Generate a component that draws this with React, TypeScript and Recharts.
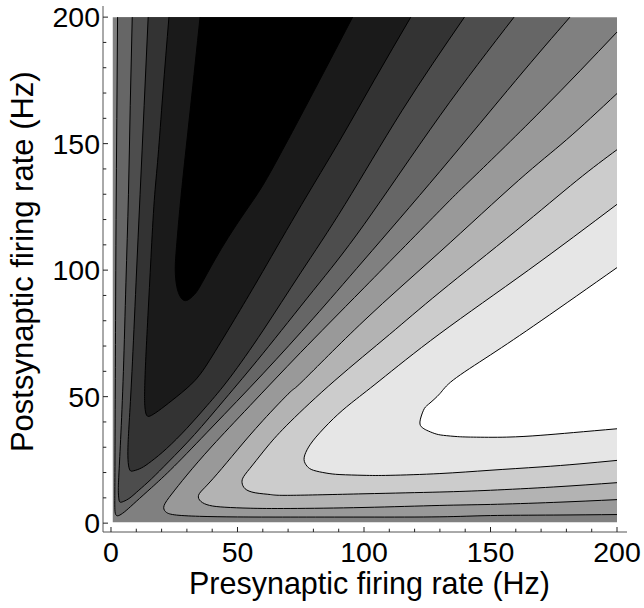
import React from 'react';
import { ComposedChart, Area, XAxis, YAxis, Label } from 'recharts';

type Pt = [number, number];

// axis ticks (minor every 10, labelled every 50)
const xTicks: number[] = [0, 10, 20, 30, 40, 50, 60, 70, 80, 90, 100, 110, 120, 130, 140, 150, 160, 170, 180, 190, 200];
const yTicks: number[] = [0, 10, 20, 30, 40, 50, 60, 70, 80, 90, 100, 110, 120, 130, 140, 150, 160, 170, 180, 190, 200];
const labelledTicks: number[] = [0, 50, 100, 150, 200];

// plotted range of the contour plot
const plotRangeX: Pt = [0.7, 200];
const plotRangeY: Pt = [0.4, 200];

// contours on the depression side (closed toward the top edge), outermost first
const contourD1: Pt[] = [
  [2.6, 200], [2.3, 160], [2.0, 120], [1.8, 80], [1.65, 45], [1.55, 20], [1.5, 9], [1.6, 4.5], [2.2, 3], [3.5, 3.2],
  [6, 5], [10, 8.6], [16, 14], [25, 22.5], [40, 38], [60, 59], [80, 81], [100, 104], [130, 139], [160, 175], [181.4, 200],
];
const contourD2: Pt[] = [
  [8.4, 200], [7.6, 165], [6.9, 130], [5.9, 95], [4.9, 60], [3.8, 33], [3.1, 19], [2.9, 13], [3.1, 9.6], [3.6, 8.3],
  [5, 8.6], [7.5, 10], [11, 13], [16, 17.5], [23, 24.5], [33, 35], [45, 49], [60, 67], [80, 92], [100, 118], [130, 161], [159.3, 200],
];
const contourD3: Pt[] = [
  [14.7, 200], [13.1, 165], [11.5, 130], [9.9, 95], [8.3, 60], [7.2, 40], [6.7, 30], [6.8, 24], [7.5, 20.9],
  [9, 20.7], [12, 21.8], [16, 24.5], [22, 29.5], [30, 37.5], [38, 46.5], [47, 57.5], [60, 76], [75, 99], [92.5, 126], [115, 163], [139.7, 200],
];
const contourD4: Pt[] = [
  [22.9, 200], [20.5, 170], [18.6, 145], [17.1, 127.5], [15.8, 105], [14.6, 82], [13.7, 64], [13.3, 52], [13.4, 46], [14.1, 42.6],
  [16, 42.6], [20, 45.3], [26, 50], [33.2, 56.4], [40, 66], [50, 82.5], [60, 99.5], [75.4, 126], [90, 150.5], [104, 175], [118.5, 200],
];
const contourD5: Pt[] = [
  [35.2, 200], [31.5, 165], [28.8, 140], [27, 122], [25.8, 108], [25.4, 100], [26, 93.5], [27.4, 89.5], [29, 88],
  [31, 88.6], [33.5, 91], [36, 95], [41, 104], [46.4, 113], [53, 123], [60, 133.5], [67, 146], [72.7, 156.6], [84, 178], [95.5, 200],
];

// contours on the potentiation side (closed toward the right edge), outermost first
const contourL1: Pt[] = [
  [200, 194.1], [170, 163], [141.9, 135.4], [130, 123.6], [100, 93], [75, 67.5], [55, 46.5], [40, 30.5], [30, 19], [24, 11.5], [21, 7],
  [21.5, 4.6], [25, 3.3], [35, 2.7], [50, 2.45], [70.8, 2.4], [100, 2.4], [130, 2.5], [150, 3], [175, 3.2], [200, 3.4],
];
const contourL2: Pt[] = [
  [200, 169.8], [180, 151.5], [161, 135.4], [130, 107.2], [100, 80], [76, 56.4], [70.8, 51.8], [60, 40.5], [50, 29], [42, 19.5], [37, 14], [34.6, 11],
  [35.5, 8.6], [39, 7], [45, 6.3], [55, 5.9], [70.8, 5.8], [100, 6.2], [130, 7], [150, 7.4], [175, 8.2], [200, 9.3],
];
const contourL3: Pt[] = [
  [200, 147.6], [184.1, 135.4], [160, 115.5], [130, 91.3], [110, 74.5], [88.5, 56.4], [70.8, 40], [62, 30.5], [56, 23], [52.5, 18.5], [51.8, 16],
  [53, 13.6], [57, 12], [63, 11.3], [70.8, 11], [100, 11.6], [130, 12.3], [150, 13], [175, 14.3], [200, 16],
];
const contourL4: Pt[] = [
  [200, 126], [165, 100], [130, 74.9], [106.3, 56.4], [95, 47.5], [87.9, 41.3], [81, 34], [77.5, 29], [76.3, 25.2],
  [77.5, 22.5], [80, 20.9], [85, 19.8], [90.5, 19.2], [100, 18.9], [110.3, 18.9], [130, 19.6], [149.8, 20.9], [169.6, 22.2], [185, 23.4], [200, 24.8],
];
const contourL5: Pt[] = [
  [200, 101], [170, 80], [150, 66.5], [135.3, 56.6], [130, 51.2], [125.5, 47], [123.5, 44.6], [122.1, 40],
  [123, 37.8], [124.8, 36.7], [128, 35.4], [131.4, 34.7], [137, 34.2], [143.2, 34], [156.4, 34], [169.6, 34.7], [182.8, 35.8], [200, 37.3],
];

const darkContours: Pt[][] = [contourD1, contourD2, contourD3, contourD4, contourD5];
const darkShades: string[] = ['#666666', '#4d4d4d', '#333333', '#1a1a1a', '#000000'];
const lightContours: Pt[][] = [contourL1, contourL2, contourL3, contourL4, contourL5];
const lightShades: string[] = ['#999999', '#b3b3b3', '#cccccc', '#e6e6e6', '#ffffff'];
const midShade = '#808080';

const FONT = '"Liberation Sans", Arial, Helvetica, sans-serif';
const FRAME = '#555555';
const TICK = '#222222';

const toRows = (pts: Pt[]) => pts.map(([x, y]) => ({ x, y }));
const tipY = (pts: Pt[]) => pts.reduce((best, p) => (p[0] < best[0] ? p : best), pts[0])[1];

const BottomTick = (props: any) => {
  const { x, y, payload } = props;
  const v = payload.value;
  const major = labelledTicks.includes(v);
  return (
    <g>
      <line x1={x} y1={y} x2={x} y2={y - (major ? 5 : 3.3)} stroke={TICK} strokeWidth={1} />
      {major && (
        <text x={x} y={y + 30} textAnchor="middle" fontSize={28.5} fontFamily={FONT} fill="#000">
          {v}
        </text>
      )}
    </g>
  );
};
const TopTick = (props: any) => {
  const { x, y, payload } = props;
  const major = labelledTicks.includes(payload.value);
  return <line x1={x} y1={y} x2={x} y2={y + (major ? 5 : 3.3)} stroke={TICK} strokeWidth={1} />;
};
const LeftTick = (props: any) => {
  const { x, y, payload } = props;
  const v = payload.value;
  const major = labelledTicks.includes(v);
  return (
    <g>
      <line x1={x} y1={y} x2={x + (major ? 5 : 3.3)} y2={y} stroke={TICK} strokeWidth={1} />
      {major && (
        <text x={x - 3} y={y + 10.3} textAnchor="end" fontSize={28.5} fontFamily={FONT} fill="#000">
          {v}
        </text>
      )}
    </g>
  );
};
const RightTick = (props: any) => {
  const { x, y, payload } = props;
  const major = labelledTicks.includes(payload.value);
  return <line x1={x} y1={y} x2={x - (major ? 5 : 3.3)} y2={y} stroke={TICK} strokeWidth={1} />;
};

const XTitle = (p: any) => {
  const vb = p.viewBox;
  return (
    <text x={vb.x + vb.width / 2 + 4.5} y={vb.y + 62} textAnchor="middle" fontSize={30.5} fontFamily={FONT} fill="#000">
      Presynaptic firing rate (Hz)
    </text>
  );
};
const YTitle = (p: any) => {
  const vb = p.viewBox;
  const cx = 33;
  const cy = vb.y + 255.7;
  return (
    <text x={cx} y={cy} transform={`rotate(-90, ${cx}, ${cy})`} textAnchor="middle" fontSize={31} fontFamily={FONT} fill="#000">
      Postsynaptic firing rate (Hz)
    </text>
  );
};

const X_DOMAIN: [number, number] = [-3.16, 203.95];
const Y_DOMAIN: [number, number] = [-3.5, 204.4];

export default function App() {
  const background = [
    { x: plotRangeX[0], y: plotRangeY[1] },
    { x: plotRangeX[1], y: plotRangeY[1] },
  ];
  return (
    <div style={{ position: 'absolute', left: 0, top: 0, width: 644, height: 608, background: '#fff' }}>
      <ComposedChart width={644} height={608} margin={{ top: 6, right: 17, bottom: 0, left: 0 }}>
        <XAxis
          xAxisId="b"
          type="number"
          dataKey="x"
          domain={X_DOMAIN}
          allowDataOverflow
          ticks={xTicks}
          interval={0}
          tickLine={false}
          tickSize={0}
          tickMargin={0}
          tick={<BottomTick />}
          axisLine={{ stroke: FRAME, strokeWidth: 1 }}
          height={76}
        >
          <Label content={<XTitle />} />
        </XAxis>
        <XAxis
          xAxisId="t"
          orientation="top"
          type="number"
          dataKey="x"
          domain={X_DOMAIN}
          allowDataOverflow
          ticks={xTicks}
          interval={0}
          tickLine={false}
          tickSize={0}
          tickMargin={0}
          tick={<TopTick />}
          axisLine={{ stroke: FRAME, strokeWidth: 1 }}
          height={0}
        />
        <YAxis
          yAxisId="l"
          type="number"
          dataKey="y"
          domain={Y_DOMAIN}
          allowDataOverflow
          ticks={yTicks}
          interval={0}
          tickLine={false}
          tickSize={0}
          tickMargin={0}
          tick={<LeftTick />}
          axisLine={{ stroke: FRAME, strokeWidth: 1 }}
          width={103}
        >
          <Label content={<YTitle />} />
        </YAxis>
        <YAxis
          yAxisId="r"
          orientation="right"
          type="number"
          dataKey="y"
          domain={Y_DOMAIN}
          allowDataOverflow
          ticks={yTicks}
          interval={0}
          tickLine={false}
          tickSize={0}
          tickMargin={0}
          tick={<RightTick />}
          axisLine={{ stroke: FRAME, strokeWidth: 1 }}
          width={0}
        />
        <Area
          xAxisId="b"
          yAxisId="l"
          data={background}
          dataKey="y"
          type="linear"
          baseValue={plotRangeY[0]}
          fill={midShade}
          fillOpacity={1}
          stroke="none"
          dot={false}
          activeDot={false}
          isAnimationActive={false}
        />
        {darkContours.map((c, i) => (
          <Area
            key={`d${i}`}
            xAxisId="b"
            yAxisId="l"
            data={toRows(c)}
            dataKey="y"
            type="natural"
            baseValue={plotRangeY[1]}
            fill={darkShades[i]}
            fillOpacity={1}
            stroke="#000"
            strokeWidth={1}
            dot={false}
            activeDot={false}
            isAnimationActive={false}
          />
        ))}
        {lightContours.map((c, i) => (
          <Area
            key={`l${i}`}
            xAxisId="b"
            yAxisId="l"
            data={toRows(c)}
            dataKey="y"
            type="natural"
            baseValue={tipY(c)}
            fill={lightShades[i]}
            fillOpacity={1}
            stroke="#000"
            strokeWidth={1}
            dot={false}
            activeDot={false}
            isAnimationActive={false}
          />
        ))}
      </ComposedChart>
    </div>
  );
}
